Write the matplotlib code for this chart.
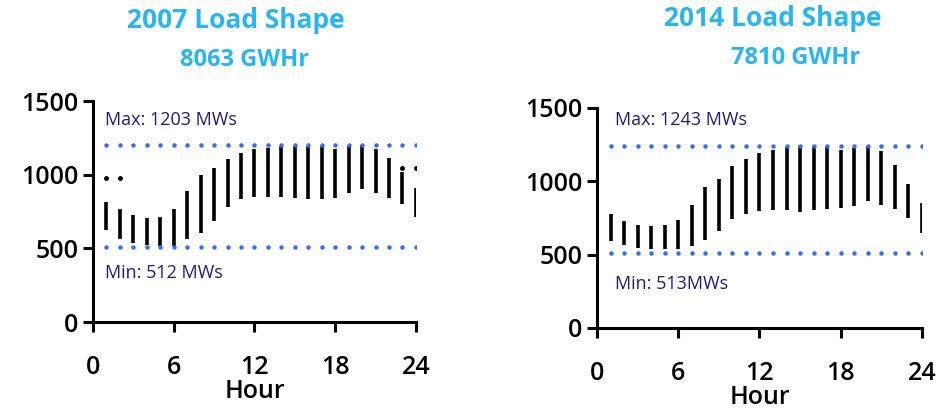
import numpy as np
import matplotlib
matplotlib.use("Agg")
import matplotlib.pyplot as plt

hours = list(range(1, 25))

# 2007 hourly load range (MW)
low_2007 = [622, 566, 536, 520, 516, 516, 566, 606, 683, 781, 833, 848,
            848, 848, 844, 837, 837, 844, 878, 905, 878, 844, 799, 713]
high_2007 = [814, 765, 724, 706, 713, 765, 889, 995, 1045, 1104, 1149, 1172,
             1181, 1195, 1195, 1195, 1195, 1172, 1195, 1199, 1172, 1113, 1018, 909]
outlier_hours_2007 = [1, 2, 23, 24]
outlier_vals_2007 = [977, 977, 1048, 1048]

# 2014 hourly load range (MW)
low_2014 = [595, 564, 545, 541, 541, 541, 557, 598, 664, 743, 780, 800,
            807, 802, 791, 807, 814, 818, 834, 864, 841, 814, 750, 648]
high_2014 = [777, 727, 705, 698, 705, 734, 841, 961, 1018, 1102, 1155, 1193,
             1211, 1232, 1239, 1239, 1239, 1211, 1227, 1239, 1205, 1109, 984, 852]

charts = [
    dict(title="2007 Load Shape", energy="8063 GWHr", low=low_2007, high=high_2007,
         out_x=outlier_hours_2007, out_y=outlier_vals_2007,
         max_mw=1203, min_mw=512, max_lbl="Max: 1203 MWs", min_lbl="Min: 512 MWs"),
    dict(title="2014 Load Shape", energy="7810 GWHr", low=low_2014, high=high_2014,
         out_x=[], out_y=[],
         max_mw=1243, min_mw=513, max_lbl="Max: 1243 MWs", min_lbl="Min: 513MWs"),
]

title_color = "#2bb5f0"
dot_color = "#3a6cf0"
note_color = "#221c6e"
font = ["Open Sans", "DejaVu Sans"]

fig = plt.figure(figsize=(9.4, 4.12), dpi=100)
rects = [[0.0989, 0.2184, 0.3436, 0.5364], [0.6351, 0.2039, 0.3457, 0.534]]
# (title x, title y, energy x, energy y) in figure fractions
title_pos = [(0.251, 0.951, 0.260, 0.854), (0.822, 0.956, 0.846, 0.859)]
lbl_pos = [((0.9, 1370), (0.9, 330)), ((1.3, 1420), (1.3, 300))]

for c, rect, tp, lp in zip(charts, rects, title_pos, lbl_pos):
    ax = fig.add_axes(rect)
    ax.vlines(hours, c["low"], c["high"], color="black", lw=2.6)
    if c["out_x"]:
        ax.plot(c["out_x"], c["out_y"], "o", color="black", ms=2.5)
    ax.plot(hours, [c["max_mw"]] * len(hours), "o", color=dot_color, ms=2.2)
    ax.plot(hours, [c["min_mw"]] * len(hours), "o", color=dot_color, ms=2.2)
    ax.text(lp[0][0], lp[0][1], c["max_lbl"], color=note_color, fontsize=13,
            family=font, va="center")
    ax.text(lp[1][0], lp[1][1], c["min_lbl"], color=note_color, fontsize=13,
            family=font, va="center")

    ax.set_xlim(0, 24)
    ax.set_ylim(0, 1500)
    ax.set_xticks([0, 6, 12, 18, 24])
    ax.set_yticks([0, 500, 1000, 1500])
    for s in ["top", "right"]:
        ax.spines[s].set_visible(False)
    for s in ["left", "bottom"]:
        ax.spines[s].set_linewidth(2.2)
    ax.tick_params(width=2.2, length=7, labelsize=18)
    ax.tick_params(axis="x", pad=17)
    for t in ax.get_xticklabels() + ax.get_yticklabels():
        t.set_family(font)
        t.set_fontweight("semibold")
    ax.set_xlabel("Hour", fontsize=18, family=font, fontweight="semibold", labelpad=-1)

    fig.text(tp[0], tp[1], c["title"], color=title_color, fontsize=19,
             fontweight="bold", family=font, ha="center", va="center")
    fig.text(tp[2], tp[3], c["energy"], color=title_color, fontsize=17,
             fontweight="bold", family=font, ha="center", va="center")

fig.savefig("out.png", dpi=100)
